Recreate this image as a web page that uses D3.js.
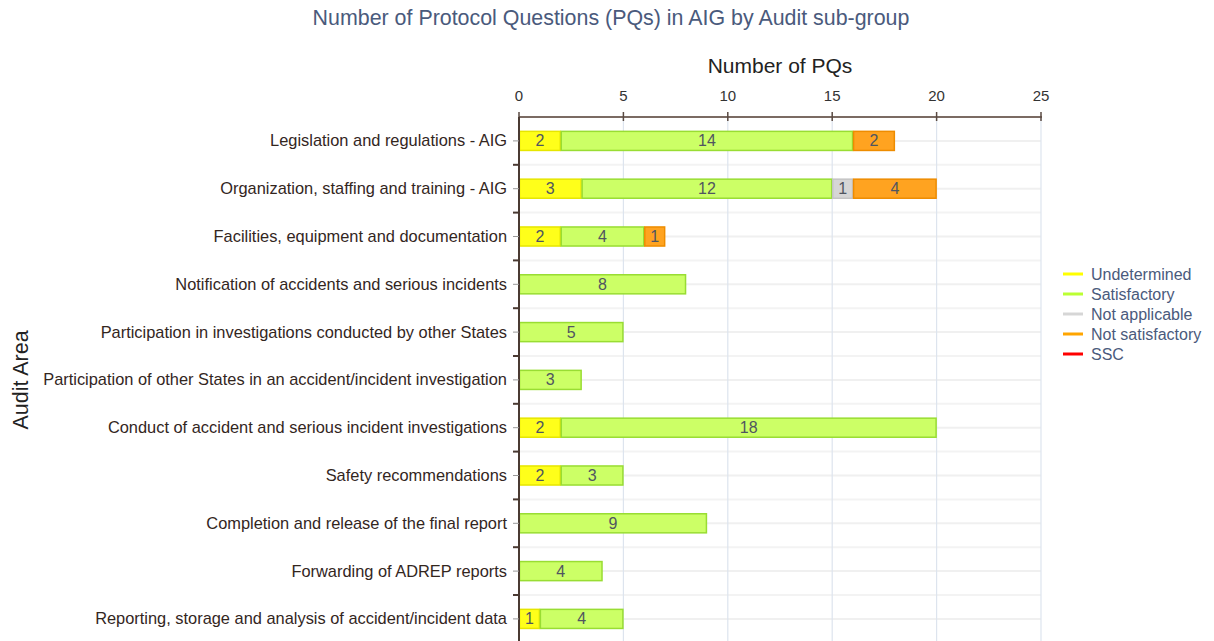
<!DOCTYPE html>
<html><head><meta charset="utf-8">
<script src="https://cdn.jsdelivr.net/npm/d3@7/dist/d3.min.js"></script>
<style>body{margin:0;background:#fff;font-family:"Liberation Sans",Arial,sans-serif;}</style>
</head><body><svg id="c" width="1214" height="641"></svg>
<script>
const categories = [
 "Legislation and regulations - AIG",
 "Organization, staffing and training - AIG",
 "Facilities, equipment and documentation",
 "Notification of accidents and serious incidents",
 "Participation in investigations conducted by other States",
 "Participation of other States in an accident/incident investigation",
 "Conduct of accident and serious incident investigations",
 "Safety recommendations",
 "Completion and release of the final report",
 "Forwarding of ADREP reports",
 "Reporting, storage and analysis of accident/incident data"
];
const seriesNames = ["Undetermined","Satisfactory","Not applicable","Not satisfactory","SSC"];
const undetermined   = [2,3,2,0,0,0,2,2,0,0,1];
const satisfactory   = [14,12,4,8,5,3,18,3,9,4,4];
const notApplicable  = [0,1,0,0,0,0,0,0,0,0,0];
const notSatisfactory= [2,4,1,0,0,0,0,0,0,0,0];
const ssc            = [0,0,0,0,0,0,0,0,0,0,0];
const xTicks = [0,5,10,15,20,25];
const fills = ["#ffff1a","#ccff66","#d6d6d6","#ffa320","#ff0000"];
const strokes = ["#e6e600","#99dd33","#c4c4c4","#ee8c00","#dd0000"];
const legendColors = ["#ffff00","#bbff33","#d6d6d6","#ffa500","#ff0000"];

const svg = d3.select("#c");
const pLeft = 519, pRight = 1041, pTop = 117;
const band = 47.8;
const x = d3.scaleLinear().domain([0,25]).range([pLeft,pRight]);
const y = d3.scaleBand().domain(categories).range([pTop, pTop + band*categories.length]).paddingInner(0.58).paddingOuter(0.29);

// horizontal faint lines
categories.forEach((c,i)=>{
  const yc = pTop + band*i + band/2;
  svg.append("line").attr("x1",pLeft).attr("x2",pRight).attr("y1",yc).attr("y2",yc).attr("stroke","#f0f0f0").attr("stroke-width",2);
  if(i>0) svg.append("line").attr("x1",pLeft).attr("x2",pRight).attr("y1",pTop+band*i).attr("y2",pTop+band*i).attr("stroke","#f3f3f3").attr("stroke-width",2);
});
// vertical grid
xTicks.forEach(t=>{ if(t>0) svg.append("line").attr("x1",x(t)).attr("x2",x(t)).attr("y1",pTop).attr("y2",641).attr("stroke","#dde4ee").attr("stroke-width",1.2); });

// stacked data
const series = [undetermined,satisfactory,notApplicable,notSatisfactory,ssc];
const rows = categories.map((c,i)=>{ const o={cat:c}; seriesNames.forEach((s,k)=>o[s]=series[k][i]); return o; });
const stacked = d3.stack().keys(seriesNames)(rows);
stacked.forEach((layer,k)=>{
  const g = svg.append("g");
  layer.forEach(d=>{
    const v = d[1]-d[0];
    if(v<=0) return;
    const yy = y(d.data.cat) ;
    g.append("rect").attr("x",x(d[0])+0.5).attr("y",yy+0.5).attr("width",x(d[1])-x(d[0])-1).attr("height",y.bandwidth()-1)
      .attr("fill",fills[k]).attr("stroke",strokes[k]).attr("stroke-width",1.5);
    g.append("text").attr("x",(x(d[0])+x(d[1]))/2).attr("y",yy+y.bandwidth()/2+5.5).attr("text-anchor","middle")
      .attr("font-size",16).attr("fill","#505560").text(v);
  });
});

// top axis
svg.append("line").attr("x1",pLeft).attr("x2",pRight+1).attr("y1",pTop).attr("y2",pTop).attr("stroke","#7b6b63").attr("stroke-width",2);
xTicks.forEach(t=>{
  svg.append("line").attr("x1",x(t)).attr("x2",x(t)).attr("y1",pTop-5).attr("y2",pTop+4).attr("stroke","#5a4a42").attr("stroke-width",1.5);
  svg.append("text").attr("x",x(t)).attr("y",pTop-16).attr("text-anchor","middle").attr("font-size",15).attr("fill","#333").text(t);
});
// left axis
svg.append("line").attr("x1",pLeft).attr("x2",pLeft).attr("y1",pTop).attr("y2",641).attr("stroke","#4a3a32").attr("stroke-width",2);
categories.forEach((c,i)=>{
  const yc = y(c)+y.bandwidth()/2;
  svg.append("line").attr("x1",pLeft-6).attr("x2",pLeft).attr("y1",yc).attr("y2",yc).attr("stroke","#999").attr("stroke-width",1);
  if(i>0) svg.append("line").attr("x1",pLeft-6).attr("x2",pLeft).attr("y1",pTop+band*i).attr("y2",pTop+band*i).attr("stroke","#4a3a32").attr("stroke-width",2);
  svg.append("text").attr("x",pLeft-12).attr("y",yc+5.5).attr("text-anchor","end").attr("font-size",16.4).attr("fill","#33261e").text(c);
});

// titles
svg.append("text").attr("x",611).attr("y",25).attr("text-anchor","middle").attr("font-size",21.4).attr("fill","#4a5a7c").text("Number of Protocol Questions (PQs) in AIG by Audit sub-group");
svg.append("text").attr("x",780).attr("y",73).attr("text-anchor","middle").attr("font-size",21).attr("fill","#222").text("Number of PQs");
svg.append("text").attr("transform","translate(28,380) rotate(-90)").attr("text-anchor","middle").attr("font-size",21.5).attr("fill","#222").text("Audit Area");

// legend
seriesNames.forEach((s,k)=>{
  const ly = 274 + k*20;
  svg.append("line").attr("x1",1063).attr("x2",1083).attr("y1",ly).attr("y2",ly).attr("stroke",legendColors[k]).attr("stroke-width",3);
  svg.append("text").attr("x",1091).attr("y",ly+5.5).attr("font-size",16).attr("fill","#4a5a7c").text(s);
});
</script></body></html>
